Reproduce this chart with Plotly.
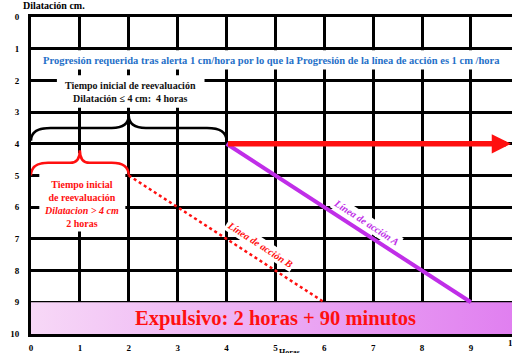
import plotly.graph_objects as go

# ---- data ----
x_ticks = list(range(0, 10))
y_ticks = list(range(0, 11))
alert_x = [4, 9.82]
alert_y = [4, 4]
action_a_x = [4, 9]
action_a_y = [4, 9]
action_b_x = [2, 6]
action_b_y = [5, 9]
band_x = [0, 10, 10, 0, 0]
band_y = [9, 9, 10, 10, 9]

SERIF = "Liberation Serif"
RED = "#ff1010"
PURPLE = "#c02ee8"
BLUE = "#1f70c8"

fig = go.Figure()

# expulsive band with gradient
fig.add_trace(go.Scatter(
    x=band_x, y=band_y, mode="lines", fill="toself",
    line=dict(width=0, color="rgba(0,0,0,0)"),
    fillgradient=dict(type="horizontal",
                      colorscale=[[0, "#f7d8f7"], [1, "#e07ef0"]]),
    hoverinfo="skip", showlegend=False))

# action lines
fig.add_trace(go.Scatter(x=action_a_x, y=action_a_y, mode="lines",
                         line=dict(color=PURPLE, width=4), showlegend=False))
fig.add_trace(go.Scatter(x=action_b_x, y=action_b_y, mode="lines",
                         line=dict(color=RED, width=2.5, dash="dot"), showlegend=False))

# white boxes covering the grid (between grid and traces)
boxes = [
    (0.05, 10.5, 1.05, 1.66),
    (0.53, 3.55, 1.84, 2.86),
    (0.17, 1.93, 4.3, 6.77),
]
for x0, x1, y0, y1 in boxes:
    fig.add_shape(type="rect", x0=x0, x1=x1, y0=y0, y1=y1, layer="between",
                  fillcolor="white", line=dict(width=0))

# braces
fig.add_shape(type="path", layer="above",
              path="M 0,3.9 Q 0,3.5 0.4,3.5 L 1.65,3.5 Q 2,3.5 2,3.1 Q 2,3.5 2.35,3.5 L 3.6,3.5 Q 4,3.5 4,3.9",
              line=dict(color="black", width=2.5))
fig.add_shape(type="path", layer="above",
              path="M 0,5 Q 0,4.6 0.35,4.6 L 0.8,4.6 Q 1,4.6 1,4.2 Q 1,4.6 1.2,4.6 L 1.65,4.6 Q 2,4.6 2,5",
              line=dict(color=RED, width=2.5))

# alert arrow
fig.add_annotation(x=alert_x[1], y=alert_y[1], ax=alert_x[0], ay=alert_y[0],
                   xref="x", yref="y", axref="x", ayref="y", text="",
                   showarrow=True, arrowhead=2, arrowsize=0.7, arrowwidth=5.5,
                   arrowcolor=RED)
fig.add_annotation(x=4.93, y=1.36, xref="x", yref="y", showarrow=False,
                   text="Progresión requerida tras alerta 1 cm/hora por lo que la Progresión de la línea de acción es 1 cm /hora",
                   font=dict(family=SERIF, size=10.5, color=BLUE, weight="bold"))
fig.add_annotation(x=2.04, y=2.35, xref="x", yref="y", showarrow=False,
                   text="Tiempo inicial de reevaluación<br>Dilatación ≤ 4 cm:  4 horas",
                   font=dict(family=SERIF, size=10, color="#111111", weight="bold"))
fig.add_annotation(x=1.03, y=5.9, xref="x", yref="y", showarrow=False,
                   text="Tiempo inicial<br>de reevaluación<br><i>Dilatacion > 4 cm</i><br>2 horas",
                   font=dict(family=SERIF, size=10, color=RED, weight="bold"))
fig.add_annotation(x=6.87, y=6.47, xref="x", yref="y", showarrow=False, textangle=33,
                   text="<i>Línea de acción A</i>", bgcolor="white",
                   font=dict(family=SERIF, size=10, color=PURPLE, weight="bold"))
fig.add_annotation(x=4.68, y=7.19, xref="x", yref="y", showarrow=False, textangle=33,
                   text="<i>Línea de acción B</i>", bgcolor="white",
                   font=dict(family=SERIF, size=10, color=RED, weight="bold"))
fig.add_annotation(x=5.0, y=9.5, xref="x", yref="y", showarrow=False,
                   text="Expulsivo: 2 horas + 90 minutos",
                   font=dict(family=SERIF, size=20.5, color=RED, weight="bold"))

# axis titles as paper annotations
fig.add_annotation(x=-0.02, y=1.035, xref="paper", yref="paper", showarrow=False,
                   xanchor="left", yanchor="middle", text="Dilatación cm.",
                   font=dict(family=SERIF, size=10, color="black", weight="bold"))
fig.add_annotation(x=0.538, y=-0.057, xref="paper", yref="paper", showarrow=False,
                   yanchor="middle", text="Horas",
                   font=dict(family=SERIF, size=8, color="black", weight="bold"))
fig.add_annotation(x=10 / 9.84, y=-0.028, xref="paper", yref="paper", showarrow=False,
                   yanchor="middle", text="10",
                   font=dict(family=SERIF, size=9, color="black", weight="bold"))

fig.update_layout(
    width=512, height=353,
    margin=dict(l=31, r=0, t=17, b=19),
    paper_bgcolor="white", plot_bgcolor="white",
    showlegend=False,
    font=dict(family=SERIF, size=9, color="black"),
    xaxis=dict(range=[0, 9.84], tickvals=x_ticks, showgrid=True, gridcolor="black",
               gridwidth=3, zeroline=False, showline=True, mirror=True,
               linecolor="black", linewidth=3, ticks="", ticklabelstandoff=3,
               tickfont=dict(family=SERIF, size=9, color="black", weight="bold")),
    yaxis=dict(range=[10, 0], tickvals=y_ticks, showgrid=True, gridcolor="black",
               gridwidth=3, zeroline=False, showline=True, linecolor="black",
               linewidth=3, ticks="", ticklabelstandoff=7,
               tickfont=dict(family=SERIF, size=9, color="black", weight="bold")),
)

fig.write_html("out.html", config={"displayModeBar": False},
               post_script="document.body.style.margin='0';")
